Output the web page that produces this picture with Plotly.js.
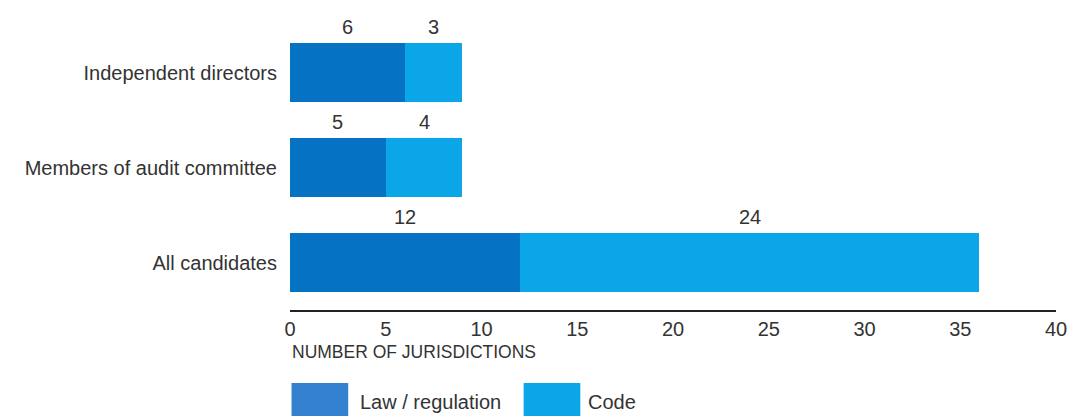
<!DOCTYPE html>
<html><head><meta charset="utf-8">
<script src="https://cdn.plot.ly/plotly-3.0.1.min.js"></script>
<style>html,body{margin:0;padding:0;background:#fff;}#chart{width:1069px;height:416px;}</style>
</head><body><div id="chart"></div>
<script>
const categories = ["Independent directors", "Members of audit committee", "All candidates"];
const lawRegulation = [6, 5, 12];
const code = [3, 4, 24];
const seriesNames = ["Law / regulation", "Code"];
const xTicks = [0, 5, 10, 15, 20, 25, 30, 35, 40];
const xTitle = "NUMBER OF JURISDICTIONS";

const colors = ["#0572c4", "#0aa6e8"];
const legendColors = ["#3482cf", "#0aa6e8"];
const font = "Liberation Sans, Arial, sans-serif";
const textColor = "#333333";

const traces = [
  {type: "bar", orientation: "h", y: categories, x: lawRegulation, name: seriesNames[0],
   marker: {color: colors[0]}, hoverinfo: "none", showlegend: false},
  {type: "bar", orientation: "h", y: categories, x: code, name: seriesNames[1],
   marker: {color: colors[1]}, hoverinfo: "none", showlegend: false}
];

const annotations = [];
categories.forEach((c, i) => {
  annotations.push({x: lawRegulation[i] / 2, y: c, xref: "x", yref: "y", text: String(lawRegulation[i]),
    showarrow: false, yshift: 46, font: {family: font, size: 20, color: textColor}});
  annotations.push({x: lawRegulation[i] + code[i] / 2, y: c, xref: "x", yref: "y", text: String(code[i]),
    showarrow: false, yshift: 46, font: {family: font, size: 20, color: textColor}});
});
annotations.push({x: 0, y: -0.148, xref: "paper", yref: "paper", xanchor: "left", yanchor: "middle",
  text: xTitle, showarrow: false, font: {family: font, size: 17.5, color: textColor}});

// custom legend with large swatches
const shapes = [];
const legX = [0.002, 0.305];
const legTextX = [0.089, 0.387];
seriesNames.forEach((n, i) => {
  shapes.push({type: "rect", xref: "paper", yref: "paper", x0: legX[i], x1: legX[i] + 0.074,
    y0: -0.375, y1: -0.256, fillcolor: legendColors[i], line: {width: 0}});
  annotations.push({x: legTextX[i], y: -0.322, xref: "paper", yref: "paper", xanchor: "left", yanchor: "middle",
    text: n, showarrow: false, font: {family: font, size: 20, color: textColor}});
});

const layout = {
  width: 1069, height: 416,
  margin: {l: 290, r: 13, t: 25, b: 106, autoexpand: false},
  paper_bgcolor: "#ffffff", plot_bgcolor: "#ffffff",
  barmode: "stack", bargap: 0.37,
  showlegend: false,
  font: {family: font, size: 20, color: textColor},
  xaxis: {range: [0, 40], tickvals: xTicks, ticktext: xTicks.map(String), showgrid: false, zeroline: false,
    showline: true, linecolor: "#222222", linewidth: 2, ticks: "", ticklabelstandoff: 0,
    tickfont: {family: font, size: 20, color: textColor}, fixedrange: true, automargin: false},
  yaxis: {range: [2.5, -0.5], autorange: false, showgrid: false, zeroline: false, showline: false, ticks: "",
    ticklabelstandoff: 12, tickfont: {family: font, size: 20, color: textColor}, fixedrange: true, automargin: false},
  annotations: annotations,
  shapes: shapes
};

Plotly.newPlot("chart", traces, layout, {displayModeBar: false, staticPlot: true});
</script></body></html>
